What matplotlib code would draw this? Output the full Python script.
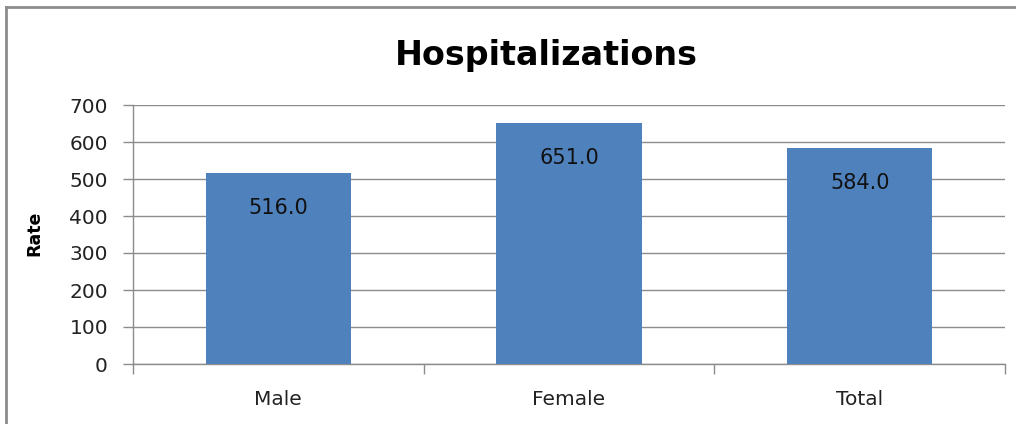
import matplotlib
matplotlib.use("Agg")
import matplotlib.pyplot as plt
from matplotlib.lines import Line2D
from matplotlib.ticker import FixedLocator

categories = ["Male", "Female", "Total"]
values = [516.0, 651.0, 584.0]
yticks = [0, 100, 200, 300, 400, 500, 600, 700]

W, H = 1016, 424
fig = plt.figure(figsize=(W / 100, H / 100), dpi=100)
ax = fig.add_axes([133 / W, 1 - 364 / H, (1005 - 133) / W, (364 - 105) / H])

bar_color = "#4F81BD"
grid_color = "#8C8C8C"
x = list(range(len(categories)))
bars = ax.bar(x, values, width=0.5, color=bar_color, zorder=3)
ax.set_xlim(-0.5, len(categories) - 0.5)
ax.set_ylim(0, 700)
ax.set_yticks(yticks)
ax.yaxis.grid(True, color=grid_color, linewidth=1, zorder=0)
ax.set_xticks(x)
ax.set_xticklabels(categories, fontsize=14.5, color="#222222")
ax.xaxis.set_minor_locator(FixedLocator([-0.5, 0.5, 1.5, 2.5]))
ax.tick_params(axis="x", which="major", length=0, pad=19)
ax.tick_params(axis="x", which="minor", length=7, color=grid_color, width=1)
ax.tick_params(axis="y", length=7, color=grid_color, width=1, labelsize=14.5,
               labelcolor="#222222", pad=11)
for s in ["top", "right"]:
    ax.spines[s].set_visible(False)
for s in ["left", "bottom"]:
    ax.spines[s].set_color(grid_color)
    ax.spines[s].set_linewidth(1)

fig.text(34 / W, 1 - 233 / H, "Rate", rotation=90, ha="center", va="center",
         fontsize=12.5, fontweight="bold", color="#000000")

for b, v in zip(bars, values):
    ax.annotate(f"{v:.1f}", (b.get_x() + b.get_width() / 2, v), xytext=(0, -35),
                textcoords="offset pixels", ha="center", va="center",
                fontsize=15, color="#111111", zorder=4)

fig.text(546 / W, 1 - 56 / H, "Hospitalizations", ha="center", va="center",
         fontsize=24, fontweight="bold", color="#000000")

fig.add_artist(Line2D([6 / W, 6 / W], [0, 1 - 7 / H], transform=fig.transFigure,
                      color=grid_color, linewidth=2))
fig.add_artist(Line2D([6 / W, 1], [1 - 7 / H, 1 - 7 / H], transform=fig.transFigure,
                      color=grid_color, linewidth=2))

fig.savefig("out.png", dpi=100)
